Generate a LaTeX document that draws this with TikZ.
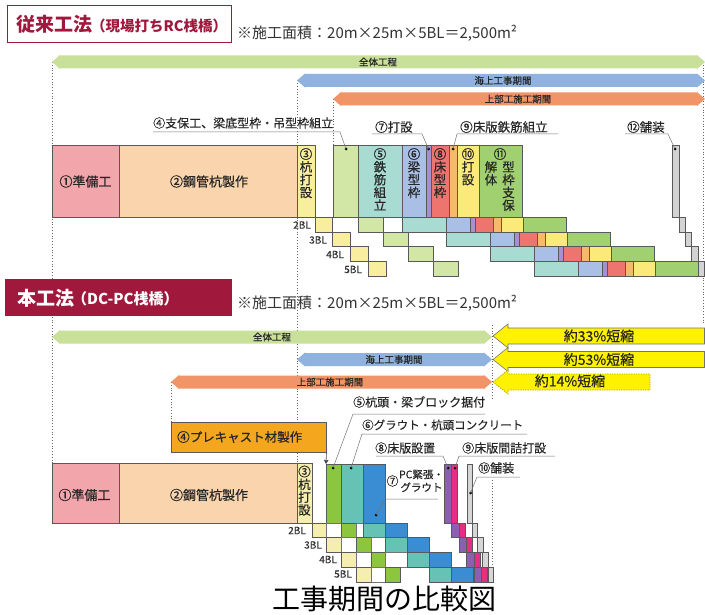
\documentclass[tikz,border=0pt]{standalone}
\usepackage{fontspec}
\setmainfont{Noto Sans CJK JP}
\newfontfamily\jpm[FakeBold=0.45]{Noto Sans CJK JP}
\usetikzlibrary{arrows.meta}
\definecolor{cCrim}{HTML}{A0193C}
\definecolor{aGrn}{HTML}{C9E09A}
\definecolor{aBlu}{HTML}{8FB3DE}
\definecolor{aOrg}{HTML}{F19468}
\definecolor{aYel}{HTML}{FFF200}
\definecolor{cPink}{HTML}{F2A5AA}
\definecolor{cPeach}{HTML}{FAD4AC}
\definecolor{cYel}{HTML}{F9EE9F}
\definecolor{cYelB}{HTML}{F6EDB0}
\definecolor{cLG}{HTML}{D2E7A6}
\definecolor{cTeal}{HTML}{A8DCD3}
\definecolor{cBlu}{HTML}{A9BFE6}
\definecolor{cPur}{HTML}{A88ED3}
\definecolor{cRed}{HTML}{EE7470}
\definecolor{cOrg}{HTML}{F7B96B}
\definecolor{cYlw}{HTML}{FBEA7A}
\definecolor{cGrn}{HTML}{A0D070}
\definecolor{cGry}{HTML}{D3D3D3}
\definecolor{cOrF}{HTML}{F4A71E}
\definecolor{cGrF}{HTML}{8CC63F}
\definecolor{cTlF}{HTML}{66C2B5}
\definecolor{cBlF}{HTML}{3B8DD3}
\definecolor{cPuF}{HTML}{8C60AF}
\definecolor{cMgF}{HTML}{E5307F}
\definecolor{cGyF}{HTML}{D6D6D6}
% one row of the conventional sequence: base x, top y, height
\newcommand\rcrow[3]{%
  \draw[cell,fill=cTeal] (#1,#2) rectangle ++(44,#3);
  \draw[cell,fill=cBlu] ({#1+44},#2) rectangle ++(24,#3);
  \draw[cell,fill=cPur] ({#1+68},#2) rectangle ++(5,#3);
  \draw[cell,fill=cRed] ({#1+73},#2) rectangle ++(18,#3);
  \draw[cell,fill=cOrg] ({#1+91},#2) rectangle ++(8,#3);
  \draw[cell,fill=cYlw] ({#1+99},#2) rectangle ++(22,#3);
  \draw[cell,fill=cGrn] ({#1+121},#2) rectangle ++(43,#3);
}
% double headed period arrow: x1, x2, yc, colour
\newcommand\periodarrow[4]{%
  \fill[#4] (#1,#3) -- ({#1+8},{#3-7}) -- ({#1+8},{#3-6.5}) -- ({#2-8},{#3-6.5}) -- ({#2-8},{#3-7}) -- (#2,#3)
    -- ({#2-8},{#3+7}) -- ({#2-8},{#3+6.5}) -- ({#1+8},{#3+6.5}) -- ({#1+8},{#3+7}) -- cycle;
}
% left pointing reduction arrow: tip x, right x, yc, style
\newcommand\cutarrow[4]{%
  \draw[#4] (#1,#3) -- ({#1+15},{#3-12}) -- ({#1+15},{#3-8}) -- (#2,{#3-8}) -- (#2,{#3+8})
    -- ({#1+15},{#3+8}) -- ({#1+15},{#3+12}) -- cycle;
}
\begin{document}
\begin{tikzpicture}[x=1pt,y=-1pt,
  cell/.style={draw=black!65, line width=0.5pt},
  wcell/.style={draw=black!55, line width=0.5pt, fill=white},
  dotv/.style={draw=black!60, line width=1pt, dash pattern=on 1pt off 1.8pt},
  lead/.style={draw=black!55, line width=0.5pt},
  lbl/.style={inner sep=0, anchor=west, font=\jpm\fontsize{12}{13}\selectfont, text=black!85},
  vt/.style={inner sep=0, anchor=north, align=center, font=\jpm\fontsize{12.5}{12.8}\selectfont, text=black!85},
  bl/.style={inner sep=0, anchor=east, font=\jpm\fontsize{10}{10}\selectfont, text=black!80},
  al/.style={inner sep=0, font=\jpm\fontsize{9.5}{10}\selectfont, text=black!85},
  yl/.style={inner sep=0, font=\jpm\fontsize{14}{14}\selectfont, text=black!85},
  bx/.style={inner sep=0, font=\jpm\fontsize{13}{13}\selectfont, text=black!85},
  ldot/.style={circle, fill=black, inner sep=0, minimum size=3pt},
  area/.style={inner sep=0, anchor=west, font=\fontsize{15}{15}\selectfont, text=black!80}
]
\useasboundingbox (0,0) rectangle (705,615);

% ---------- guide lines ----------
\draw[dotv] (52,62) -- (52,463);
\draw[dotv] (297,80.5) -- (297,463);
\draw[dotv] (333,99) -- (333,145);
\draw[dotv] (703,62) -- (703,325);
\draw[dotv] (171,382) -- (171,422);
\draw[dotv] (492,325) -- (492,398);
\draw[dotv] (492,480) -- (492,582);

% ---------- conventional method ----------
\draw[cCrim, line width=1.6pt, fill=white] (7.5,5.5) rectangle (231.5,42.5);
\node[inner sep=0, anchor=west, text=cCrim, font=\bfseries\fontsize{19}{20}\selectfont] (t1a) at (16,24.5) {従来工法};
\node[inner sep=0, anchor=west, text=cCrim, font=\bfseries\fontsize{14.5}{15}\selectfont] (t1b) at (91,25.5) {（現場打ちRC桟橋）};
\node[area] (ar1) at (237,33) {※施工面積：20m×25m×5BL＝2,500m²};

\periodarrow{52}{705}{62}{aGrn}
\periodarrow{297}{705}{80.5}{aBlu}
\periodarrow{333}{705}{99}{aOrg}
\node[al] (a1) at (378,62) {全体工程};
\node[al] (a2) at (503,80.5) {海上工事期間};
\node[al] (a3) at (518,99) {上部工施工期間};

% tall first row
\draw[cell,fill=cPink] (52,145) rectangle (119,217);
\draw[cell,fill=cPeach] (119,145) rectangle (297,217);
\draw[cell,fill=cYel] (297,145) rectangle (314.8,217);
\draw[cell,fill=cLG] (333,145) rectangle (358,217);
\rcrow{358}{145}{72}
\draw[cell,fill=cGry] (672,145) rectangle (679,217);

% staircase rows 2BL..5BL
\foreach \k in {2,...,5}{
  \pgfmathsetmacro\ya{217+14.8*(\k-2)}
  \pgfmathsetmacro\xa{297+17.8*(\k-1)}
  \pgfmathsetmacro\xb{333+25*(\k-1)}
  \pgfmathsetmacro\xc{358+44*(\k-1)}
  \pgfmathsetmacro\xd{679+6.3*(\k-2)}
  \draw[cell,fill=cYel] (\xa,\ya) rectangle ++(17.8,14.8);
  \draw[cell,fill=cLG] (\xb,\ya) rectangle ++(25,14.8);
  \rcrow{\xc}{\ya}{14.8}
  \draw[cell,fill=cGry] (\xd,\ya) rectangle ++(6.3,14.8);
}
\node[bl] (b2) at (311,225) {2BL};
\node[bl] (b3) at (327,240) {3BL};
\node[bl] (b4) at (344,254.5) {4BL};
\node[bl] (b5) at (362,269.5) {5BL};

% box texts
\node[bx] (n1) at (85.5,181.5) {①準備工};
\node[bx] (n2) at (209,181.5) {②鋼管杭製作};
\node[vt] (n3) at (306,148) {③\\杭\\打\\設};
\node[vt] (n5) at (380,148) {⑤\\鉄\\筋\\組\\立};
\node[vt] (n6) at (414,148) {⑥\\梁\\型\\枠};
\node[vt] (n8) at (440,148) {⑧\\床\\型\\枠};
\node[vt] (n10) at (468,148) {⑩\\打\\設};
\node[vt] (n11) at (500,148) {⑪};
\node[vt] (n11r) at (508.5,161) {型\\枠\\支\\保};
\node[vt] (n11l) at (491,161) {解\\体};

% labels with leaders
\node[lbl] (l4) at (153,123) {④支保工、梁底型枠・吊型枠組立};
\coordinate (u4a) at (153,132); \coordinate (u4b) at (340,132);
\node[ldot] (d4) at (346,149) {};
\draw[lead] (u4a) -- (u4b) -- (d4.center);

\node[lbl, font=\jpm\fontsize{12.5}{13}\selectfont] (l7) at (375,127) {⑦打設};
\coordinate (u7a) at (372,134); \coordinate (u7b) at (422,134);
\node[ldot] (d7) at (428.5,149) {};
\draw[lead] (u7a) -- (u7b) -- (d7.center);

\node[lbl, font=\jpm\fontsize{12.5}{13}\selectfont] (l9) at (460,127) {⑨床版鉄筋組立};
\coordinate (u9a) at (558,134); \coordinate (u9b) at (457,134);
\node[ldot] (d9) at (453,149) {};
\draw[lead] (u9a) -- (u9b) -- (d9.center);

\node[lbl, font=\jpm\fontsize{12.5}{13}\selectfont] (l12) at (627,127) {⑫舗装};
\coordinate (u12a) at (625,134); \coordinate (u12b) at (668,134);
\node[ldot] (d12) at (675,149) {};
\draw[lead] (u12a) -- (u12b) -- (d12.center);

% ---------- new method ----------
\fill[cCrim] (5,279) rectangle (232,316);
\node[inner sep=0, anchor=west, text=white, font=\bfseries\fontsize{19}{20}\selectfont] (t2a) at (17,298) {本工法};
\node[inner sep=0, anchor=west, text=white, font=\bfseries\fontsize{15}{15}\selectfont] (t2b) at (72,299) {（DC-PC桟橋）};
\node[area] (ar2) at (237,303) {※施工面積：20m×25m×5BL＝2,500m²};

\periodarrow{52}{492}{337}{aGrn}
\periodarrow{297}{492}{359.5}{aBlu}
\periodarrow{171}{492}{382}{aOrg}
\node[al] (a4) at (272,337) {全体工程};
\node[al] (a5) at (394,359.5) {海上工事期間};
\node[al] (a6) at (330,382) {上部工施工期間};

\cutarrow{493}{704.5}{336}{fill=aYel, draw=black!55, line width=0.6pt}
\cutarrow{493}{704.5}{359.5}{fill=aYel, draw=black!55, line width=0.6pt}
\cutarrow{493}{650}{382}{fill=aYel, draw=olive!70!yellow, line width=0.8pt, dash pattern=on 1.2pt off 1.2pt}
\node[yl] (y1) at (599,336) {約33\%短縮};
\node[yl] (y2) at (599,359.5) {約53\%短縮};
\node[yl] (y3) at (570,381) {約14\%短縮};

% precast box
\node[cell, fill=cOrF, anchor=north west, minimum width=155pt, minimum height=30pt, inner sep=0] (p4) at (171,422) {};
\node[lbl, font=\jpm\fontsize{12.5}{13}\selectfont] (p4t) at (177,437) {④プレキャスト材製作};
\coordinate (p4end) at (326,464);
\draw[black!70, line width=0.6pt, -{Triangle[length=4pt,width=4.5pt]}] (p4.south east) -- (p4end);

% tall first row
\draw[cell,fill=cPink] (52,463) rectangle (119,523);
\draw[cell,fill=cPeach] (119,463) rectangle (297,523);
\draw[cell,fill=cYelB] (297,463) rectangle (312,523);
\draw[cell,fill=cGrF] (326.7,464) rectangle (341.4,523);
\draw[cell,fill=cTlF] (341.4,464) rectangle (363.4,523);
\draw[cell,fill=cBlF] (363.4,464) rectangle (385.4,523);
\draw[cell,fill=cPuF] (444,464) rectangle (451.5,523);
\draw[cell,fill=cMgF] (451.5,464) rectangle (457.5,523);
\draw[cell,fill=cGyF] (467,464) rectangle (472.5,523);

\foreach \j in {0,...,3}{
  \pgfmathsetmacro\ya{523+14.7*\j}
  \pgfmathsetmacro\xa{312+14.7*\j}
  \pgfmathsetmacro\xt{363.4+22*\j}
  \pgfmathsetmacro\xp{451.5+7.5*\j}
  \pgfmathsetmacro\xg{472.2+5.2*\j}
  \draw[cell,fill=cYelB] (\xa,\ya) rectangle ++(14.7,14.7);
  \draw[wcell] ({\xa+14.7},\ya) rectangle ++(14.7,14.7);
  \draw[cell,fill=cGrF] ({\xa+29.4},\ya) rectangle ++(14.7,14.7);
  \ifnum\j<3 \draw[wcell] ({\xa+44.1},\ya) rectangle (\xt,{\ya+14.7}); \fi
  \draw[cell,fill=cTlF] (\xt,\ya) rectangle ++(22,14.7);
  \draw[cell,fill=cBlF] ({\xt+22},\ya) rectangle ++(22,14.7);
  \draw[cell,fill=cPuF] (\xp,\ya) rectangle ++(7.5,14.7);
  \draw[cell,fill=cMgF] ({\xp+7.5},\ya) rectangle ++(6,14.7);
  \draw[cell,fill=cGyF] (\xg,\ya) rectangle ++(5.5,14.7);
}
\node[bl] (c2) at (306,530.5) {2BL};
\node[bl] (c3) at (322,545) {3BL};
\node[bl] (c4) at (337,559.5) {4BL};
\node[bl] (c5) at (352,574) {5BL};

\node[bx] (m1) at (84.5,495) {①準備工};
\node[bx] (m2) at (209,495) {②鋼管杭製作};
\node[vt] (m3) at (304.5,465.5) {③\\杭\\打\\設};

\node[lbl] (k5) at (353,402) {⑤杭頭・梁ブロック据付};
\coordinate (v5a) at (485,414); \coordinate (v5b) at (353,414);
\node[ldot] (e5) at (333,468) {};
\draw[lead] (v5a) -- (v5b) -- (e5.center);

\node[lbl, font=\jpm\fontsize{11.5}{12}\selectfont] (k6) at (362,425) {⑥グラウト・杭頭コンクリート};
\coordinate (v6a) at (527,434); \coordinate (v6b) at (362,434);
\node[ldot] (e6) at (351,468) {};
\draw[lead] (v6a) -- (v6b) -- (e6.center);

\node[lbl] (k8) at (375,448) {⑧床版設置};
\coordinate (v8a) at (376,456); \coordinate (v8b) at (443,456);
\node[ldot] (e8) at (448,468) {};
\draw[lead] (v8a) -- (v8b) -- (e8.center);

\node[lbl] (k9) at (462,448) {⑨床版間詰打設};
\coordinate (v9a) at (555,456); \coordinate (v9b) at (459,456);
\node[ldot] (e9) at (455,468) {};
\draw[lead] (v9a) -- (v9b) -- (e9.center);

\node[lbl] (k10) at (478,468) {⑩舗装};
\coordinate (v10a) at (520,477); \coordinate (v10b) at (477,477);
\node[ldot] (e10) at (470.5,493) {};
\draw[lead] (v10a) -- (v10b) -- (e10.center);

\node[inner sep=0, font=\jpm\fontsize{12}{12}\selectfont, text=black!85] (k7n) at (392.5,481) {⑦};
\node[inner sep=0, align=center, font=\jpm\fontsize{10.5}{13}\selectfont, text=black!85] (k7) at (421.5,481) {PC緊張・\\グラウト};
\coordinate (v7a) at (438,499); \coordinate (v7b) at (385,499);
\node[ldot] (e7) at (376,515) {};
\draw[lead] (v7a) -- (v7b) -- (e7.center);

% caption
\node[inner sep=0, font=\fontsize{28}{28}\selectfont, text=black] (cap) at (384,599) {工事期間の比較図};
\end{tikzpicture}
\end{document}
